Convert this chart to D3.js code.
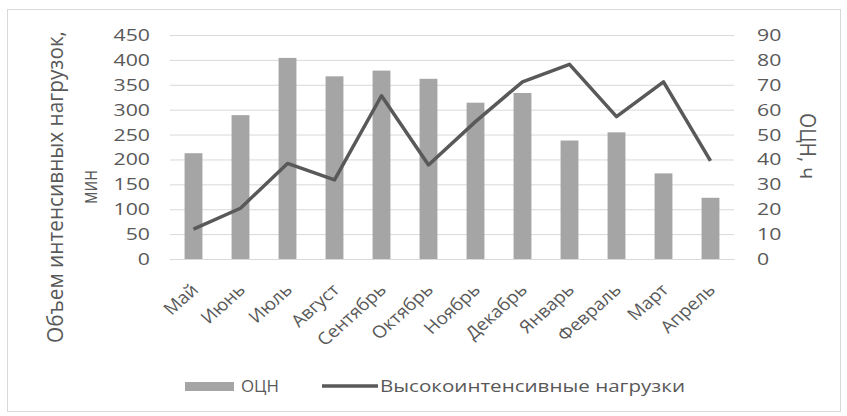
<!DOCTYPE html>
<html>
<head>
<meta charset="utf-8">
<script src="https://cdn.jsdelivr.net/npm/d3@7"></script>
<style>
  body { margin: 0; background: #fff; }
  svg text { font-family: "Open Sans", "DejaVu Sans", sans-serif; fill: #595959; }
</style>
</head>
<body>
<div id="chart"></div>
<script>
const months = ['Май', 'Июнь', 'Июль', 'Август', 'Сентябрь', 'Октябрь', 'Ноябрь', 'Декабрь', 'Январь', 'Февраль', 'Март', 'Апрель'];
// ОЦН, ч (right axis)
const ocnHours = [42.5, 57.8, 80.8, 73.4, 75.7, 72.4, 62.8, 66.7, 47.6, 50.9, 34.4, 24.6];
// Высокоинтенсивные нагрузки, мин (left axis)
const intenseMinutes = [60, 102, 192, 159, 328, 189, 276, 356, 391, 286, 356, 197];
const leftTicks = [0, 50, 100, 150, 200, 250, 300, 350, 400, 450];
const rightTicks = [0, 10, 20, 30, 40, 50, 60, 70, 80, 90];

const width = 847;
const height = 416;
const margin = { top: 35, right: 113, bottom: 157, left: 170 };
const chartWidth = width - margin.left - margin.right;
const chartHeight = height - margin.top - margin.bottom;
const stretch = 1.25; // the source text is noticeably wide

const svg = d3.select('#chart').append('svg').attr('width', width).attr('height', height);

svg.append('rect')
  .attr('x', 7.5).attr('y', 9.5).attr('width', 833).attr('height', 402)
  .attr('fill', '#fff').attr('stroke', '#d9d9d9');

const g = svg.append('g').attr('transform', `translate(${margin.left},${margin.top})`);

const x = d3.scaleBand().domain(months).range([0, chartWidth]).paddingInner(0.62).paddingOuter(0.31);
const yLeft = d3.scaleLinear().domain([0, 450]).range([chartHeight, 0]);
const yRight = d3.scaleLinear().domain([0, 90]).range([chartHeight, 0]);

function widen(sel) {
  sel.each(function () {
    const t = d3.select(this);
    const tx = +t.attr('x') || 0;
    t.attr('x', tx / stretch).attr('transform', `scale(${stretch},1)`);
  });
}

// gridlines
g.append('g')
  .call(d3.axisLeft(yLeft).tickValues(leftTicks).tickSize(-chartWidth).tickFormat(''))
  .call((s) => s.select('.domain').remove())
  .selectAll('line')
  .attr('stroke', '#d9d9d9');

// left axis
g.append('g')
  .call(d3.axisLeft(yLeft).tickValues(leftTicks).tickSize(0).tickPadding(20))
  .call((s) => s.select('.domain').remove())
  .selectAll('text')
  .attr('font-size', 17)
  .attr('fill', '#595959')
  .call(widen);

// right axis
g.append('g')
  .attr('transform', `translate(${chartWidth},0)`)
  .call(d3.axisRight(yRight).tickValues(rightTicks).tickSize(0).tickPadding(23))
  .call((s) => s.select('.domain').remove())
  .selectAll('text')
  .attr('font-size', 17)
  .attr('fill', '#595959')
  .call(widen);

// bars
g.selectAll('rect.bar')
  .data(months)
  .join('rect')
  .attr('class', 'bar')
  .attr('x', (d) => x(d))
  .attr('y', (d, i) => yRight(ocnHours[i]))
  .attr('width', x.bandwidth())
  .attr('height', (d, i) => chartHeight - yRight(ocnHours[i]))
  .attr('fill', '#a5a5a5');

// line
g.append('path')
  .datum(intenseMinutes)
  .attr('fill', 'none')
  .attr('stroke', '#595959')
  .attr('stroke-width', 3.5)
  .attr('stroke-linejoin', 'round')
  .attr('d', d3.line()
    .x((d, i) => x(months[i]) + x.bandwidth() / 2)
    .y((d) => yLeft(d)));

// x axis
const xAxis = g.append('g')
  .attr('transform', `translate(0,${chartHeight})`)
  .call(d3.axisBottom(x).tickSize(0).tickPadding(0));
xAxis.select('.domain').attr('stroke', '#d9d9d9');
xAxis.selectAll('text')
  .attr('font-size', 17)
  .attr('fill', '#595959')
  .attr('text-anchor', 'end')
  .attr('y', 0)
  .attr('dy', 0)
  .attr('transform', 'translate(6,32) scale(1.12,1) rotate(-45)');

// axis titles
const leftTitle = svg.append('text')
  .attr('transform', `translate(63,187) scale(1.3,1) rotate(-90)`)
  .attr('text-anchor', 'middle')
  .attr('font-size', 17);
leftTitle.append('tspan').attr('x', 0).attr('dy', 0)
  .attr('textLength', 312).attr('lengthAdjust', 'spacingAndGlyphs')
  .text('Объем интенсивных нагрузок,');
leftTitle.append('tspan').attr('x', 0).attr('dy', 26).text('мин');

svg.append('text')
  .attr('transform', `translate(800,146) scale(1.3,1) rotate(90)`)
  .attr('text-anchor', 'middle')
  .attr('font-size', 17)
  .attr('textLength', 66).attr('lengthAdjust', 'spacingAndGlyphs')
  .text('ОЦН, ч');

// legend
const legend = svg.append('g').attr('transform', 'translate(185,386)');
legend.append('rect').attr('x', 0).attr('y', -4).attr('width', 49).attr('height', 9).attr('fill', '#a5a5a5');
legend.append('text').attr('x', 56).attr('y', 0).attr('dy', '0.36em').attr('font-size', 17)
  .attr('textLength', 38).attr('lengthAdjust', 'spacingAndGlyphs').text('ОЦН');
legend.append('line').attr('x1', 137).attr('x2', 193).attr('y1', 0).attr('y2', 0)
  .attr('stroke', '#595959').attr('stroke-width', 3.5);
legend.append('text').attr('x', 195).attr('y', 0).attr('dy', '0.36em').attr('font-size', 17)
  .attr('textLength', 305).attr('lengthAdjust', 'spacingAndGlyphs').text('Высокоинтенсивные нагрузки');
</script>
</body>
</html>
